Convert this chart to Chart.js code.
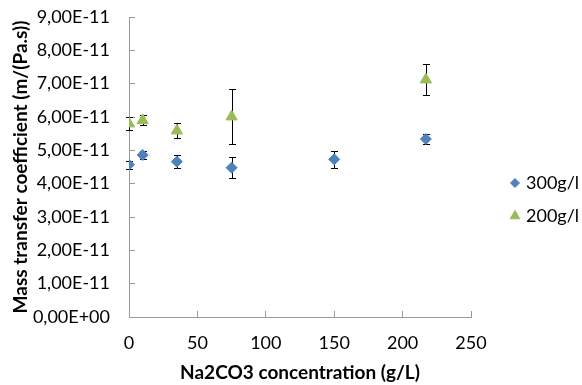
<!DOCTYPE html>
<html>
<head>
<meta charset="utf-8">
<script src="https://cdn.jsdelivr.net/npm/chart.js@4.4.1/dist/chart.umd.min.js"></script>
<style>
  html, body { margin: 0; padding: 0; background: #fff; }
  #wrap { width: 582px; height: 385px; }
</style>
</head>
<body>
<div id="wrap"><canvas id="chart" width="582" height="385"></canvas></div>
<script>
// Na2CO3 concentration (g/L)
var conc300 = [0, 10, 35, 75, 150, 217];
var conc200 = [0, 10, 35, 75, 217];
// mass transfer coefficient, m/(Pa.s)
var k300 = [4.57e-11, 4.86e-11, 4.66e-11, 4.48e-11, 4.73e-11, 5.34e-11];
var k200 = [5.80e-11, 5.90e-11, 5.59e-11, 6.01e-11, 7.12e-11];
// error bar half-widths
var err300 = [0.12e-11, 0.13e-11, 0.19e-11, 0.32e-11, 0.26e-11, 0.14e-11];
var err200 = [0.20e-11, 0.15e-11, 0.23e-11, 0.83e-11, 0.46e-11];
var seriesLabels = ["300g/l", "200g/l"];
var xTicks = [0, 50, 100, 150, 200, 250];

function toPoints(xs, ys) {
	var pts = [];
	for (var i in xs) {
		pts.push({x: xs[i], y: ys[i]});
	}
	return pts;
}

function sciLabel(v) {
	var s = Math.abs(v) < 1e-20 ? "0.00e+0" : v.toExponential(2);
	var parts = s.split("e");
	var sign = parts[1].charAt(0);
	var exp = parts[1].substring(1);
	if (exp.length < 2) exp = "0" + exp;
	return parts[0].replace(".", ",") + "E" + sign + exp;
}

Chart.defaults.font.family = "Lato";
Chart.defaults.color = "#000";

var errorBars = {
	id: "errorBars",
	beforeDatasetsDraw: function(chart) {
		var ctx = chart.ctx;
		var xs = chart.scales.x, ys = chart.scales.y;
		ctx.save();
		ctx.strokeStyle = "#000";
		ctx.lineWidth = 1;
		chart.data.datasets.forEach(function(ds) {
			ds.data.forEach(function(p, i) {
				var e = ds.errors[i];
				var px = Math.round(xs.getPixelForValue(p.x)) + 0.5;
				var top = Math.round(ys.getPixelForValue(p.y + e)) + 0.5;
				var bot = Math.round(ys.getPixelForValue(p.y - e)) + 0.5;
				ctx.beginPath();
				ctx.moveTo(px, top); ctx.lineTo(px, bot);
				ctx.moveTo(px - 3.5, top); ctx.lineTo(px + 3.5, top);
				ctx.moveTo(px - 3.5, bot); ctx.lineTo(px + 3.5, bot);
				ctx.stroke();
			});
		});
		ctx.restore();
	}
};

var sideLegend = {
	id: "sideLegend",
	afterDraw: function(chart) {
		var ctx = chart.ctx;
		var rows = [183, 216];
		ctx.save();
		chart.data.datasets.forEach(function(ds, i) {
			ctx.fillStyle = ds.backgroundColor;
			ctx.strokeStyle = ds.borderColor;
			Chart.helpers.drawPoint(ctx, {pointStyle: ds.pointStyle, radius: ds.pointRadius - 1, rotation: 0, borderWidth: 1}, 515, rows[i]);
			ctx.fillStyle = "#000";
			ctx.font = "18px Lato";
			ctx.textBaseline = "middle";
			ctx.textAlign = "left";
			ctx.fillText(ds.label, 526, rows[i]);
		});
		ctx.restore();
	}
};

var ctx = document.getElementById("chart");

var chart = new Chart(ctx, {
	type: "scatter",
	data: {
		datasets: [
			{
				label: seriesLabels[0],
				data: toPoints(conc300, k300),
				errors: err300,
				pointStyle: "rectRot",
				pointRadius: 5.5,
				backgroundColor: "#4F81BD",
				borderColor: "#4F81BD",
				borderWidth: 1
			},
			{
				label: seriesLabels[1],
				data: toPoints(conc200, k200),
				errors: err200,
				pointStyle: "triangle",
				pointRadius: 6.5,
				backgroundColor: "#9BBB59",
				borderColor: "#9BBB59",
				borderWidth: 1
			}
		]
	},
	options: {
		responsive: false,
		animation: false,
		layout: { padding: { left: 0, right: 111, top: 0, bottom: 0 } },
		plugins: {
			legend: { display: false },
			tooltip: { enabled: false }
		},
		scales: {
			x: {
				type: "linear",
				min: 0,
				max: 250,
				afterBuildTicks: function(scale) {
					scale.ticks = xTicks.map(function(v) { return {value: v}; });
				},
				afterFit: function(scale) { scale.height = 68; },
				border: { color: "#9a9a9a", width: 1 },
				grid: { drawOnChartArea: false, drawTicks: true, tickLength: -6, color: "#9a9a9a" },
				ticks: { font: { size: 18 }, padding: 21, maxRotation: 0 },
				title: {
					display: true,
					text: "Na2CO3 concentration (g/L)",
					font: { size: 19, weight: "bold" },
					padding: { top: 0, bottom: 1 }
				}
			},
			y: {
				type: "linear",
				min: 0,
				max: 9e-11,
				afterFit: function(scale) {
					scale.width = 129;
					// tick padding would otherwise push the plot down
					scale.paddingTop = 17;
					scale.paddingBottom = 11;
				},
				border: { color: "#9a9a9a", width: 1 },
				grid: { drawOnChartArea: false, drawTicks: true, tickLength: -6, color: "#9a9a9a" },
				ticks: {
					stepSize: 1e-11,
					font: { size: 18 },
					padding: 25,
					callback: function(v) { return sciLabel(v); }
				},
				title: {
					display: true,
					text: "Mass transfer coefficient (m/(Pa.s))",
					font: { size: 19, weight: "bold" },
					padding: { top: 9, bottom: 0 }
				}
			}
		}
	},
	plugins: [errorBars, sideLegend]
});
</script>
</body>
</html>
